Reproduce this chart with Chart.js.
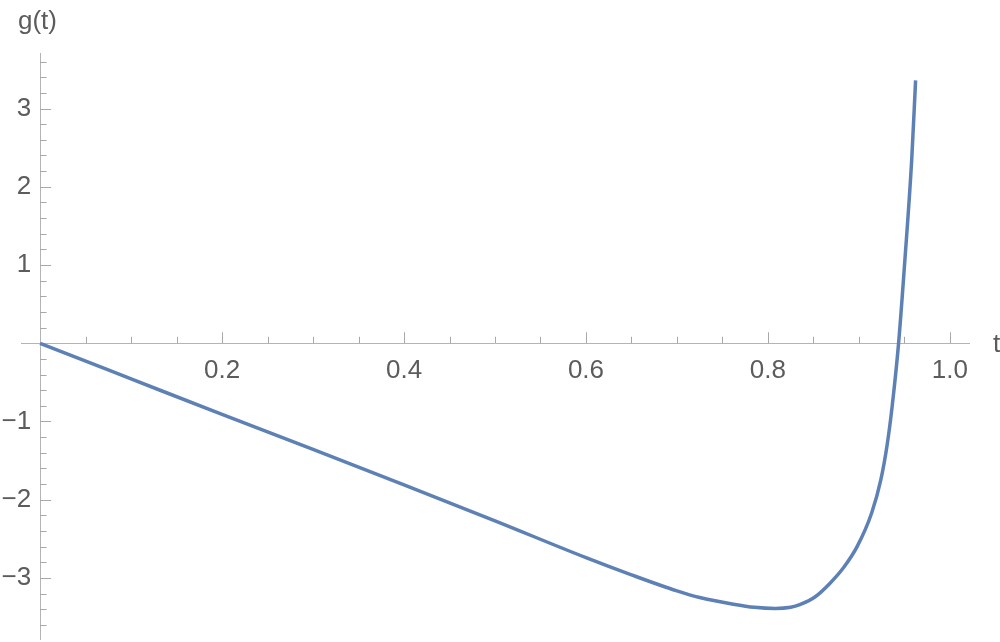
<!DOCTYPE html>
<html>
<head>
<meta charset="utf-8">
<script src="https://cdn.jsdelivr.net/npm/chart.js@4/dist/chart.umd.min.js"></script>
<style>
  html, body { margin: 0; padding: 0; background: #fff; }
  #wrap { width: 1000px; height: 642px; position: relative; }
</style>
</head>
<body>
<div id="wrap"><canvas id="c"></canvas></div>
<script>
// Data
const tValues = [0, 0.1, 0.2, 0.3, 0.4, 0.5, 0.6, 0.65, 0.7, 0.725, 0.762, 0.785, 0.808, 0.825, 0.835, 0.852, 0.868, 0.883, 0.898, 0.914, 0.924, 0.931, 0.9366, 0.9436, 0.9505, 0.958, 0.9623];
const gValues = [0, -0.455, -0.91, -1.355, -1.81, -2.27, -2.74, -2.96, -3.165, -3.25, -3.335, -3.375, -3.39, -3.375, -3.342, -3.24, -3.07, -2.87, -2.6, -2.17, -1.75, -1.3, -0.8, 0, 1.06, 2.34, 3.36];
const xTickValues = [0.2, 0.4, 0.6, 0.8, 1.0];
const yTickValues = [-3, -2, -1, 1, 2, 3];
const xAxisTitle = 't';
const yAxisTitle = 'g(t)';

const points = tValues.map((t, i) => ({ x: t, y: gValues[i] }));

const FONT = '"Liberation Sans", Arial, sans-serif';
const LABEL_COLOR = '#5c5c5c';
const AXIS_COLOR = '#b4b4b4';
const Y_MIN = -3.78, Y_MAX = 3.71;

const noPad = (s) => { s.paddingTop = 0; s.paddingBottom = 0; s.paddingLeft = 0; s.paddingRight = 0; };

const axisDecor = {
  id: 'axisDecor',
  beforeDatasetsDraw(chart) {
    const { ctx, scales: { x, y } } = chart;
    const x0 = x.getPixelForValue(0);
    const y0 = y.getPixelForValue(0);
    ctx.save();
    ctx.strokeStyle = '#a8a8a8';
    ctx.lineWidth = 1;
    ctx.beginPath();
    // x ticks: every 0.05, major every 0.2, pointing up
    for (let i = 1; i <= 20; i++) {
      const px = Math.round(x.getPixelForValue(i * 0.05)) + 0.5;
      const len = (i % 4 === 0) ? 11 : 6.5;
      ctx.moveTo(px, y0);
      ctx.lineTo(px, y0 - len);
    }
    // y ticks: every 0.2, major every 1, pointing right
    for (let i = -18; i <= 18; i++) {
      if (i === 0) continue;
      const py = Math.round(y.getPixelForValue(i * 0.2)) + 0.5;
      const len = (i % 5 === 0) ? 11 : 6.5;
      ctx.moveTo(x0, py);
      ctx.lineTo(x0 + len, py);
    }
    ctx.stroke();
    // axis titles
    ctx.fillStyle = LABEL_COLOR;
    ctx.font = '26px ' + FONT;
    ctx.textAlign = 'left';
    ctx.textBaseline = 'alphabetic';
    ctx.fillText(yAxisTitle, 18, 29);
    ctx.fillText(xAxisTitle, x.right + 24, y0 + 9);
    ctx.restore();
  }
};

new Chart(document.getElementById('c'), {
  type: 'scatter',
  data: {
    datasets: [{
      data: points,
      showLine: true,
      borderColor: '#5E81B5',
      backgroundColor: '#5E81B5',
      borderWidth: 3.5,
      pointRadius: 0,
      cubicInterpolationMode: 'monotone',
      fill: false
    }]
  },
  options: {
    responsive: true,
    maintainAspectRatio: false,
    animation: false,
    layout: { padding: { left: 21, right: 31, top: 53, bottom: 3 } },
    plugins: { legend: { display: false }, tooltip: { enabled: false }, title: { display: false } },
    scales: {
      x: {
        type: 'linear',
        min: -0.021,
        max: 1.021,
        position: { y: 0 },
        grid: { display: false, drawTicks: false },
        border: { display: true, color: AXIS_COLOR, width: 1 },
        afterBuildTicks: (s) => { s.ticks = xTickValues.map(v => ({ value: v })); },
        afterFit: noPad,
        ticks: {
          autoSkip: false,
          maxRotation: 0,
          padding: 12,
          color: LABEL_COLOR,
          font: { family: FONT, size: 26 },
          callback: (v) => Number(v).toFixed(1)
        }
      },
      y: {
        type: 'linear',
        min: Y_MIN,
        max: Y_MAX,
        position: { x: 0 },
        grid: { display: false, drawTicks: false },
        border: { display: true, color: AXIS_COLOR, width: 1 },
        afterFit: noPad,
        ticks: { display: false }
      },
      yLabels: {
        type: 'linear',
        axis: 'y',
        min: Y_MIN,
        max: Y_MAX,
        position: { x: -0.0099 },
        grid: { display: false, drawTicks: false },
        border: { display: false },
        afterBuildTicks: (s) => { s.ticks = yTickValues.map(v => ({ value: v })); },
        afterFit: noPad,
        ticks: {
          autoSkip: false,
          padding: 0,
          color: LABEL_COLOR,
          font: { family: FONT, size: 26 },
          callback: (v) => (v < 0 ? '\u2212' + Math.abs(v) : String(v))
        }
      }
    }
  },
  plugins: [axisDecor]
});
</script>
</body>
</html>
